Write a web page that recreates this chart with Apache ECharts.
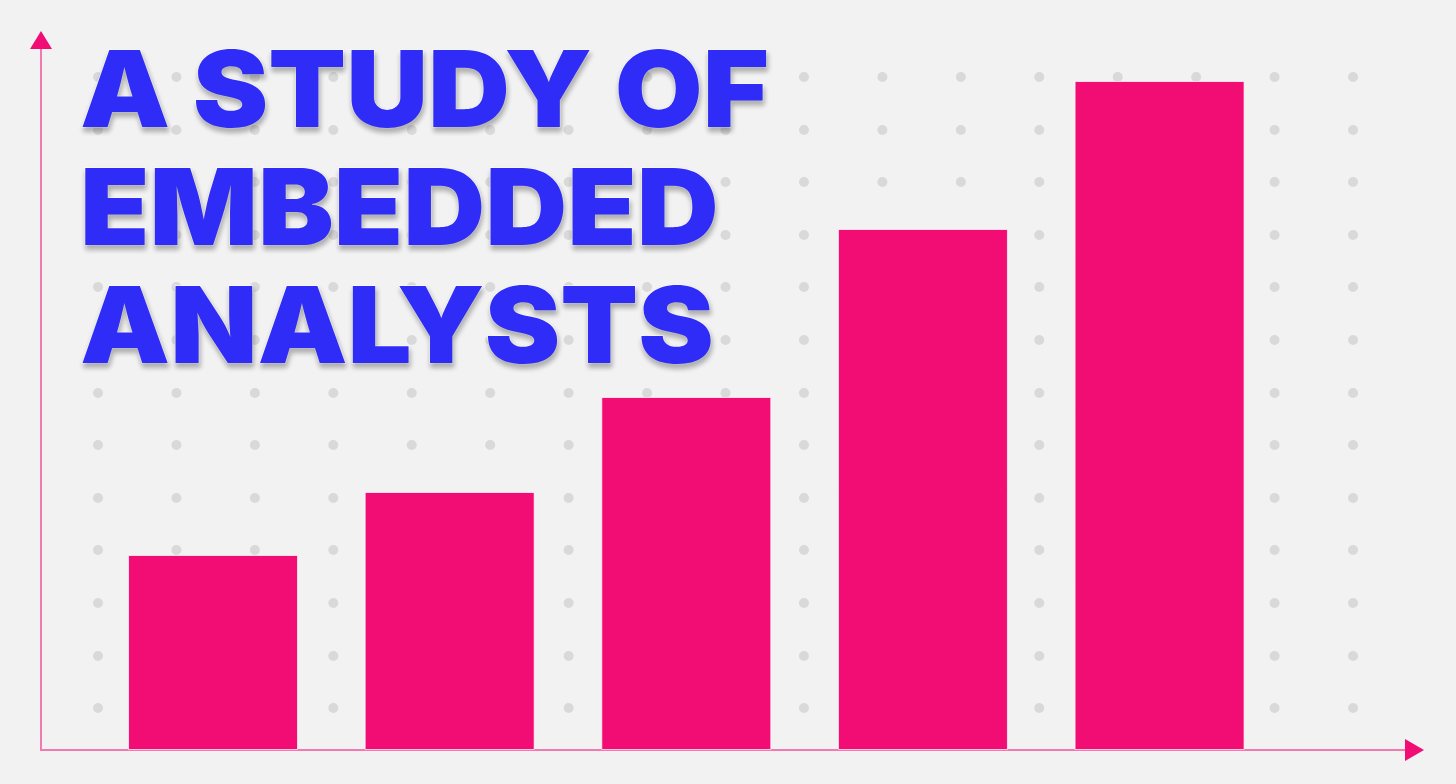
<!DOCTYPE html>
<html>
<head>
<meta charset="utf-8">
<style>
  html, body { margin: 0; padding: 0; background: #f2f2f2; }
  #chart { width: 1456px; height: 784px; }
</style>
<script src="https://cdn.jsdelivr.net/npm/echarts@6/dist/echarts.min.js"></script>
</head>
<body>
<div id="chart"></div>
<script>
// ---- data ----
var categories = ['1', '2', '3', '4', '5'];
var barValues = [195, 258, 353, 521, 669];
var titleLines = ['A STUDY OF', 'EMBEDDED', 'ANALYSTS'];
var dotRows = 12; // intervals in the background dot grid

var pink = '#f20d75';
var axisPink = '#f27ab1';
var blue = '#2e2cf6';

var chart = echarts.init(document.getElementById('chart'), null, { renderer: 'canvas' });

chart.setOption({
  backgroundColor: '#f2f2f2',
  animation: false,
  grid: [
    { left: 94.7, right: 178.1, top: 50, bottom: 34, z: 3 },
    { left: 41, right: 46, top: 46, bottom: 34 },
    { left: 98, right: 98, top: 76.7, bottom: 76 }
  ],
  xAxis: [
    { type: 'category', gridIndex: 0, data: categories,
      axisLine: { show: false }, axisTick: { show: false }, axisLabel: { show: false } },
    { type: 'value', gridIndex: 1, min: 0, max: 1,
      axisLine: { show: true, onZero: false, lineStyle: { color: axisPink, width: 2 } },
      axisTick: { show: false }, axisLabel: { show: false }, splitLine: { show: false } },
    { type: 'value', gridIndex: 2, min: 0, max: 1, show: false }
  ],
  yAxis: [
    { type: 'value', gridIndex: 0, min: 0, max: 700,
      axisLine: { show: false }, axisTick: { show: false }, axisLabel: { show: false }, splitLine: { show: false } },
    { type: 'value', gridIndex: 1, min: 0, max: 1,
      axisLine: { show: true, onZero: false, lineStyle: { color: axisPink, width: 2 } },
      axisTick: { show: false }, axisLabel: { show: false }, splitLine: { show: false } },
    { type: 'value', gridIndex: 2, min: 0, max: dotRows, interval: 1,
      axisLine: { show: false }, axisTick: { show: false }, axisLabel: { show: false },
      splitLine: { show: true, showMinLine: true, showMaxLine: true,
        lineStyle: { color: '#d9d9d9', width: 10, cap: 'round', type: [0.01, 78.43], dashOffset: 0 } } }
  ],
  series: [
    {
      type: 'bar',
      xAxisIndex: 0,
      yAxisIndex: 0,
      data: barValues,
      barWidth: 170,
      itemStyle: { color: pink, borderColor: 'rgba(255,255,255,0.7)', borderWidth: 1 },
      z: 3
    }
  ],
  graphic: [
    { type: 'polygon', z: 20, shape: { points: [[1405, 739], [1424, 750], [1405, 761]] }, style: { fill: pink } },
    { type: 'polygon', z: 20, shape: { points: [[30, 49], [41, 31], [52, 49]] }, style: { fill: pink } },
    {
      type: 'text', z: 30, x: 80, y: 36, scaleX: 1.07, originX: 0, originY: 0,
      style: {
        text: titleLines.join('\n'),
        fontFamily: 'Inter',
        fontWeight: 900,
        fontSize: 106,
        lineHeight: 118,
        fill: blue,
        stroke: 'rgba(255,255,255,0.8)',
        lineWidth: 1.5,
        textShadowColor: 'rgba(0,0,0,0.28)',
        textShadowBlur: 5,
        textShadowOffsetX: 1,
        textShadowOffsetY: 4,
        align: 'left',
        verticalAlign: 'top'
      }
    }
  ]
});
</script>
</body>
</html>
